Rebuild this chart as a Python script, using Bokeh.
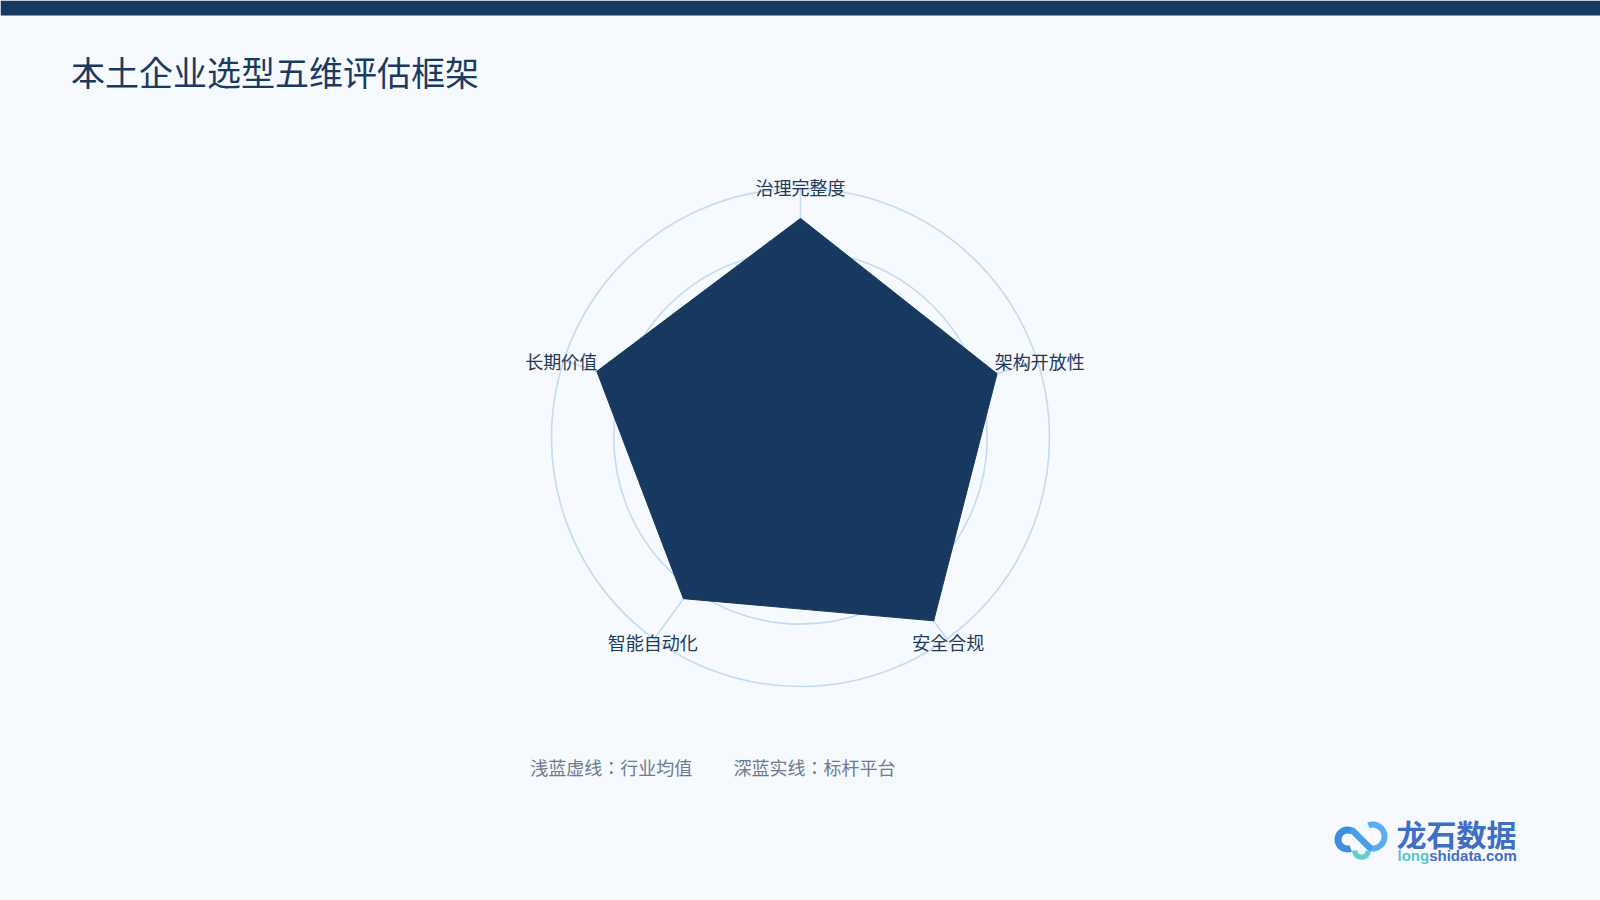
import math
from bokeh.plotting import figure
from bokeh.models import Range1d
from bokeh.core.properties import value
from bokeh.embed import file_html
from bokeh.resources import INLINE

# ---------------- data ----------------
title = "本土企业选型五维评估框架"
dimensions = ["治理完整度", "架构开放性", "安全合规", "智能自动化", "长期价值"]
benchmark = [88, 83, 91, 80, 86]
ring_levels = [25, 50, 75, 100]
axis_max = 100
legend_items = ["浅蓝虚线：行业均值", "深蓝实线：标杆平台"]
brand_name = "龙石数据"
brand_url_a = "long"
brand_url_b = "shidata.com"

# ---------------- style ----------------
BG = "#F6F9FD"
NAVY = "#17385F"
GRID = "#C4DBF0"
LABEL = "#22395A"
LEGEND = "#6C7B91"
CJK = value("Noto Sans CJK JP")
LATIN = value("Liberation Sans")

W, H = 1600, 900
CX, CY = 800, 437         # radar centre in page pixels
S = 2.49                  # pixels per value unit
LABEL_R = 101             # label radius in value units


def to_data(X, Y):
    return (X - CX) / S, (CY - Y) / S


p = figure(width=W, height=H, output_backend="svg", toolbar_location=None,
           x_range=Range1d((0 - CX) / S, (W - CX) / S),
           y_range=Range1d((CY - H) / S, CY / S),
           x_axis_type=None, y_axis_type=None, min_border=0,
           outline_line_color=None,
           background_fill_color=BG, border_fill_color=BG)

# top bar
bx0, by0 = to_data(0, 0)
bx1, by1 = to_data(W, 15)
p.quad(left=[bx0], right=[bx1], top=[by0], bottom=[by1],
       fill_color=NAVY, line_color=None)

# title
tx, ty = to_data(70.4, 71)
p.text(x=[tx], y=[ty], text=[title], text_align="left", text_baseline="middle",
       text_font=CJK, text_font_size="34px", text_color="#1B3A5F")

# radar geometry
n = len(dimensions)
angles = [math.pi / 2 - 2 * math.pi * i / n for i in range(n)]

# rings
p.circle(x=[0] * len(ring_levels), y=[0] * len(ring_levels), radius=ring_levels,
         fill_color=None, line_color=GRID, line_width=1.6)

# spokes
p.segment(x0=[0] * n, y0=[0] * n,
          x1=[axis_max * math.cos(a) for a in angles],
          y1=[axis_max * math.sin(a) for a in angles],
          line_color=GRID, line_width=1.6)

# benchmark polygon
px = [v * math.cos(a) for v, a in zip(benchmark, angles)]
py = [v * math.sin(a) for v, a in zip(benchmark, angles)]
p.patch(px, py, fill_color=NAVY, line_color=NAVY, line_width=1)

# dimension labels
p.text(x=[LABEL_R * math.cos(a) for a in angles],
       y=[LABEL_R * math.sin(a) for a in angles],
       text=dimensions, text_align="center", text_baseline="middle",
       text_font=CJK, text_font_size="18px", text_color=LABEL, y_offset=1)

# legend note
lx = [529.7, 733]
ly = [766, 766]
lpts = [to_data(a, b) for a, b in zip(lx, ly)]
p.text(x=[q[0] for q in lpts], y=[q[1] for q in lpts], text=legend_items,
       text_align="left", text_baseline="middle", text_font=CJK,
       text_font_size="18px", text_color=LEGEND)


# brand logo (icon)
def wedge(Xc, Yc, r_in, r_out, a0, a1, color):
    x, y = to_data(Xc, Yc)
    p.annular_wedge(x=[x], y=[y], inner_radius=r_in / S, outer_radius=r_out / S,
                    start_angle=math.radians(a0), end_angle=math.radians(a1),
                    fill_color=color, line_color=None)


wedge(1361, 850, 4, 9.5, 180, 360, "#66D0C8")
wedge(1347, 839, 6, 13, 60, 290, "#3D8EE0")
wedge(1372, 836, 9, 15, -100, 110, "#58AEF0")
lx0, ly0 = to_data(1351, 829)
lx1, ly1 = to_data(1371, 849)
p.line(x=[lx0, lx1], y=[ly0, ly1], line_color="#4A9FE8", line_width=6.5)

nx, ny = to_data(1396, 832)
p.text(x=[nx], y=[ny], text=[brand_name], text_align="left", text_baseline="middle",
       text_font=CJK, text_font_size="30px", text_font_style="bold",
       text_color="#3F6FC2")
ux, uy = to_data(1397, 855)
p.text(x=[ux], y=[uy], text=[brand_url_a], text_align="left", text_baseline="middle",
       text_font=LATIN, text_font_size="15px", text_font_style="bold",
       text_color="#5CC4C9")
ux2, uy2 = to_data(1428.7, 855)
p.text(x=[ux2], y=[uy2], text=[brand_url_b], text_align="left", text_baseline="middle",
       text_font=LATIN, text_font_size="15px", text_font_style="bold",
       text_color="#3F6FC2")

open("out.html", "w").write(file_html(p, INLINE))
